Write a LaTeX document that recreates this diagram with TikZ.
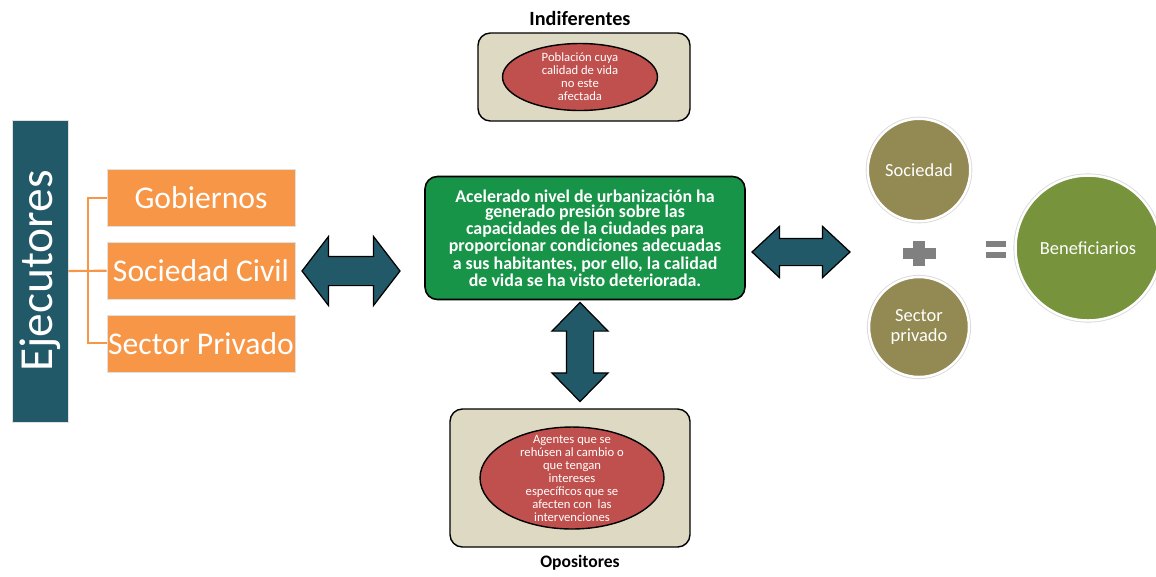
\documentclass[tikz,border=0pt]{standalone}
\usepackage{fontspec}
\setmainfont{Carlito}
\usetikzlibrary{positioning,shapes.geometric,shapes.arrows,calc}

\definecolor{ejteal}{HTML}{215968}
\definecolor{ejorange}{HTML}{F79646}
\definecolor{probgreen}{HTML}{179447}
\definecolor{boxtan}{HTML}{DDD9C3}
\definecolor{ellred}{HTML}{C0504D}
\definecolor{socolive}{HTML}{938953}
\definecolor{benegreen}{HTML}{77933C}
\definecolor{signgray}{HTML}{808080}

\begin{document}
\begin{tikzpicture}[
x=0.02cm, y=-0.02cm,
ejbox/.style={draw=black!12, fill=ejteal, text=white, minimum width=1.12cm, minimum height=6.04cm, inner sep=0pt, font=\fontsize{27}{27}\selectfont},
actor/.style={draw=black!12, fill=ejorange, text=white, minimum width=3.76cm, minimum height=1.14cm, inner sep=0pt, font=\fontsize{18}{20}\selectfont},
tree/.style={ejorange, line width=1.2pt},
problem/.style={draw=black, line width=0.9pt, fill=probgreen, rounded corners=7pt, text=white, align=center, minimum width=6.4cm, minimum height=2.46cm, font=\bfseries\fontsize{10.2}{8.7}\selectfont},
group/.style={draw=black, line width=0.8pt, fill=boxtan, rounded corners=7pt},
grpell/.style={ellipse, draw=black, line width=0.8pt, fill=ellred, inner sep=0pt},
elltext/.style={text=white, align=center, inner sep=0pt, font=\fontsize{7.2}{7.4}\selectfont},
grplabel/.style={font=\bfseries\fontsize{10}{12}\selectfont},
dblarrow/.style={double arrow, draw=black, line width=0.7pt, fill=ejteal, inner sep=0pt},
party/.style={circle, fill=socolive, draw=white, line width=1.4pt, preaction={draw=black!15, line width=2.4pt}, text=white, align=center, inner sep=0pt, font=\fontsize{10.5}{11.3}\selectfont},
sign/.style={fill=signgray}
]
\useasboundingbox (0,0) rectangle (1156,576);

% ejecutores
\node[ejbox] (ejec) at (40,271) {\rotatebox{90}{Ejecutores}};
\node[actor] (gob) at (201,198) {Gobiernos};
\node[actor, below=0.3cm of gob] (civ) {Sociedad Civil};
\node[actor, below=0.3cm of civ] (priv) {Sector Privado};
\coordinate (fork) at (88,271);
\draw[tree] (ejec.east) -- (civ.west);
\draw[tree] (gob.west) -| (fork) |- (priv.west);

% problema
\node[problem] (prob) at (585,238) {Acelerado nivel de urbanización ha\\generado presión sobre las\\capacidades de la ciudades para\\proporcionar condiciones adecuadas\\a sus habitantes, por ello, la calidad\\de vida se ha visto deteriorada.};

% indiferentes
\node[grplabel, font=\bfseries\fontsize{11.5}{13}\selectfont] (indlbl) at (580,18) {Indiferentes};
\node[group, minimum width=4.24cm, minimum height=1.76cm] (indbox) at (584,77) {};
\node[grpell, minimum width=3.1cm, minimum height=1.34cm] (indell) at (580,77) {};
\node[elltext] (indtxt) at (indell) {Población cuya\\calidad de vida\\no este\\afectada};

% opositores
\node[group, minimum width=4.8cm, minimum height=2.76cm] (opobox) at (570,478) {};
\node[grpell, minimum width=3.68cm, minimum height=2.04cm] (opoell) at (572,478) {};
\node[elltext] (opotxt) at (opoell) {Agentes que se\\rehúsen al cambio o\\que tengan\\intereses\\específicos que se\\afecten con~ las\\intervenciones};
\node[grplabel] (opolbl) at (580,563) {Opositores};

% flechas
\node[dblarrow, minimum height=1.96cm, inner ysep=0.28cm, double arrow head extend=0.4cm, double arrow tip angle=105] (arrL) at (351,271) {};
\node[dblarrow, minimum height=1.96cm, inner ysep=0.26cm, double arrow head extend=0.24cm, double arrow tip angle=86] (arrR) at (801,252) {};
\node[dblarrow, rotate=90, minimum height=1.98cm, inner ysep=0.26cm, double arrow head extend=0.29cm, double arrow tip angle=89] (arrD) at (580,352) {};

% beneficiarios
\node[party, minimum size=2.05cm] (soc) at (919,170) {Sociedad};
\node[party, minimum size=2.0cm] (secp) at (919,327) {Sector\\privado};
\node[party, fill=benegreen, minimum size=2.9cm] (bene) at (1088,248) {Beneficiarios};
\fill[sign] (903,248) rectangle (936,259);
\fill[sign] (913,241) rectangle (925,266);
\fill[sign] (986,241) rectangle (1006,247);
\fill[sign] (986,252) rectangle (1006,258);
\end{tikzpicture}
\end{document}
